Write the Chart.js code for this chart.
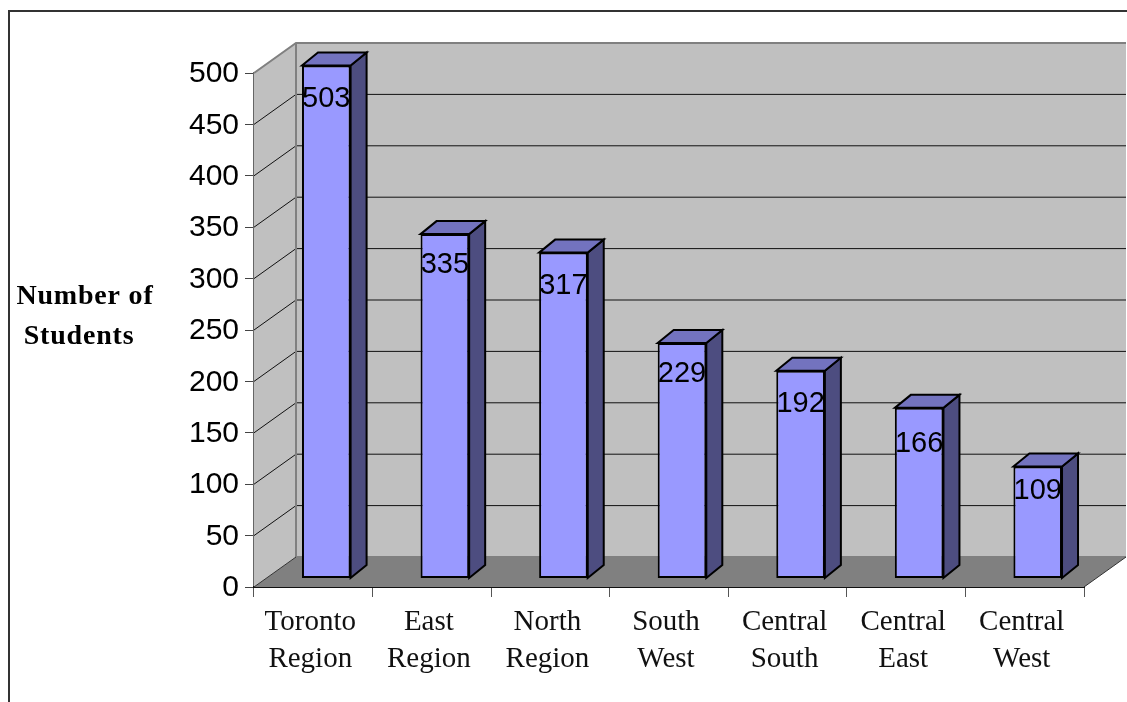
<!DOCTYPE html>
<html>
<head>
<meta charset="utf-8">
<title>Number of Students by Region</title>
<script src="https://cdn.jsdelivr.net/npm/chart.js@4/dist/chart.umd.min.js"></script>
<style>
    html, body { margin: 0; padding: 0; background: #fff; overflow: hidden; }
    canvas { display: block; }
</style>
</head>
<body>
<canvas id="studentsChart" width="1127" height="702"></canvas>
<script>
const categories = [
    ['Toronto', 'Region'], ['East', 'Region'], ['North', 'Region'], ['South', 'West'],
    ['Central', 'South'], ['Central', 'East'], ['Central', 'West']
];
// bar heights; the printed labels differ on two of them
const barHeights = [499, 335, 317, 229, 202, 166, 109];
const valueLabels = ['503', '335', '317', '229', '192', '166', '109'];
const labelDrop = [32, 30, 32, 30, 32, 35, 24];
const axisTitle = ['Number of', 'Students'];

const WALL = { dx: 42, dy: -30 };
const BAR_SHIFT = { dx: 13, dy: -8.5 };
const BAR_DEPTH = { dx: 16, dy: -13 };

function poly(ctx, pts, fill, stroke, width) {
    ctx.beginPath();
    pts.forEach((p, i) => i ? ctx.lineTo(p[0], p[1]) : ctx.moveTo(p[0], p[1]));
    ctx.closePath();
    if (fill) { ctx.fillStyle = fill; ctx.fill(); }
    if (stroke) { ctx.strokeStyle = stroke; ctx.lineWidth = width; ctx.stroke(); }
}

// Box walls and floor, drawn from the scales
const walls = {
    id: 'walls',
    beforeDatasetsDraw(chart) {
        const { ctx, chartArea: a, scales } = chart;
        const backL = a.left + WALL.dx, backR = a.right + WALL.dx;
        const backTop = a.top + WALL.dy, backBottom = a.bottom + WALL.dy;
        ctx.save();
        poly(ctx, [[a.left, a.top], [backL, backTop], [backL, backBottom], [a.left, a.bottom]], '#C0C0C0');
        poly(ctx, [[backL, backTop], [backR, backTop], [backR, backBottom], [backL, backBottom]], '#C0C0C0');
        poly(ctx, [[a.left, a.bottom], [backL, backBottom], [backR, backBottom], [a.right, a.bottom]], '#808080');

        scales.y.ticks.forEach(t => {
            if (t.value === 0) return;
            const y = scales.y.getPixelForValue(t.value);
            const top = t.value === 500;
            ctx.strokeStyle = top ? '#808080' : '#111';
            ctx.lineWidth = top ? 2 : 1;
            ctx.beginPath();
            ctx.moveTo(a.left, y);
            ctx.lineTo(backL, y + WALL.dy);
            ctx.lineTo(backR, y + WALL.dy);
            ctx.stroke();
        });
        ctx.strokeStyle = '#808080';
        ctx.lineWidth = 2;
        ctx.beginPath();
        ctx.moveTo(backL, backTop);
        ctx.lineTo(backL, backBottom);
        ctx.lineTo(backR, backBottom);
        ctx.stroke();
        ctx.lineWidth = 1;
        ctx.strokeStyle = '#333';
        ctx.beginPath();
        ctx.moveTo(a.right, a.bottom);
        ctx.lineTo(backR, backBottom);
        ctx.moveTo(a.left, a.bottom);
        ctx.lineTo(backL, backBottom);
        ctx.stroke();
        ctx.restore();

        // bars sit a little way into the box
        ctx.save();
        ctx.translate(BAR_SHIFT.dx, BAR_SHIFT.dy);
        chart.getDatasetMeta(0).data.forEach(bar => {
            const l = bar.x - bar.width / 2, r = bar.x + bar.width / 2;
            const d = BAR_DEPTH;
            poly(ctx, [[r, bar.y], [r + d.dx, bar.y + d.dy], [r + d.dx, bar.base + d.dy], [r, bar.base]], '#4D4D80', '#000', 2);
            poly(ctx, [[l, bar.y], [l + d.dx, bar.y + d.dy], [r + d.dx, bar.y + d.dy], [r, bar.y]], '#7373BF', '#000', 2);
        });
    },
    afterDatasetsDraw(chart) {
        const { ctx } = chart;
        ctx.restore();
        ctx.save();
        // value labels
        ctx.fillStyle = '#000';
        ctx.font = '29px "Liberation Sans"';
        ctx.textAlign = 'center';
        ctx.textBaseline = 'middle';
        chart.getDatasetMeta(0).data.forEach((bar, i) => {
            ctx.fillText(valueLabels[i], bar.x + BAR_SHIFT.dx, bar.y + BAR_SHIFT.dy + labelDrop[i] + 1);
        });
        // axis title
        ctx.font = 'bold 28px "Liberation Serif"';
        ctx.letterSpacing = '0.8px';
        ctx.fillText(axisTitle[0], 85, 297);
        ctx.fillText(axisTitle[1], 79, 337);
        ctx.letterSpacing = '0px';
        // page frame
        ctx.strokeStyle = '#333';
        ctx.lineWidth = 2;
        ctx.beginPath();
        ctx.moveTo(9, 702);
        ctx.lineTo(9, 11);
        ctx.lineTo(1127, 11);
        ctx.stroke();
        ctx.restore();
    }
};

new Chart(document.getElementById('studentsChart').getContext('2d'), {
    type: 'bar',
    data: {
        labels: categories,
        datasets: [{
            data: barHeights,
            backgroundColor: '#9999FF',
            borderColor: '#000',
            borderWidth: 2,
            borderSkipped: false,
            barPercentage: 0.41,
            categoryPercentage: 1,
            clip: false
        }]
    },
    options: {
        responsive: false,
        animation: false,
        devicePixelRatio: 1,
        layout: { padding: { top: 73, right: 43, bottom: 0, left: 0 } },
        plugins: {
            legend: { display: false },
            title: { display: false },
            tooltip: { enabled: false }
        },
        scales: {
            y: {
                min: 0,
                max: 500,
                afterFit: scale => { scale.width = 254; },
                ticks: {
                    stepSize: 50,
                    color: '#000',
                    padding: 6,
                    labelOffset: 1,
                    font: { family: '"Liberation Sans"', size: 30 }
                },
                grid: { drawOnChartArea: false, drawTicks: true, tickLength: 9, color: '#444' },
                border: { display: true, color: '#666', width: 2 }
            },
            x: {
                afterFit: scale => { scale.height = 115; },
                ticks: {
                    color: '#111',
                    padding: 7,
                    labelOffset: -3,
                    maxRotation: 0,
                    autoSkip: false,
                    font: { family: '"Liberation Serif"', size: 29, lineHeight: 1.28 }
                },
                grid: { drawOnChartArea: false, drawTicks: true, tickLength: 10, color: '#555', offset: true },
                border: { display: true, color: '#111', width: 2 }
            }
        }
    },
    plugins: [walls]
});
</script>
</body>
</html>
